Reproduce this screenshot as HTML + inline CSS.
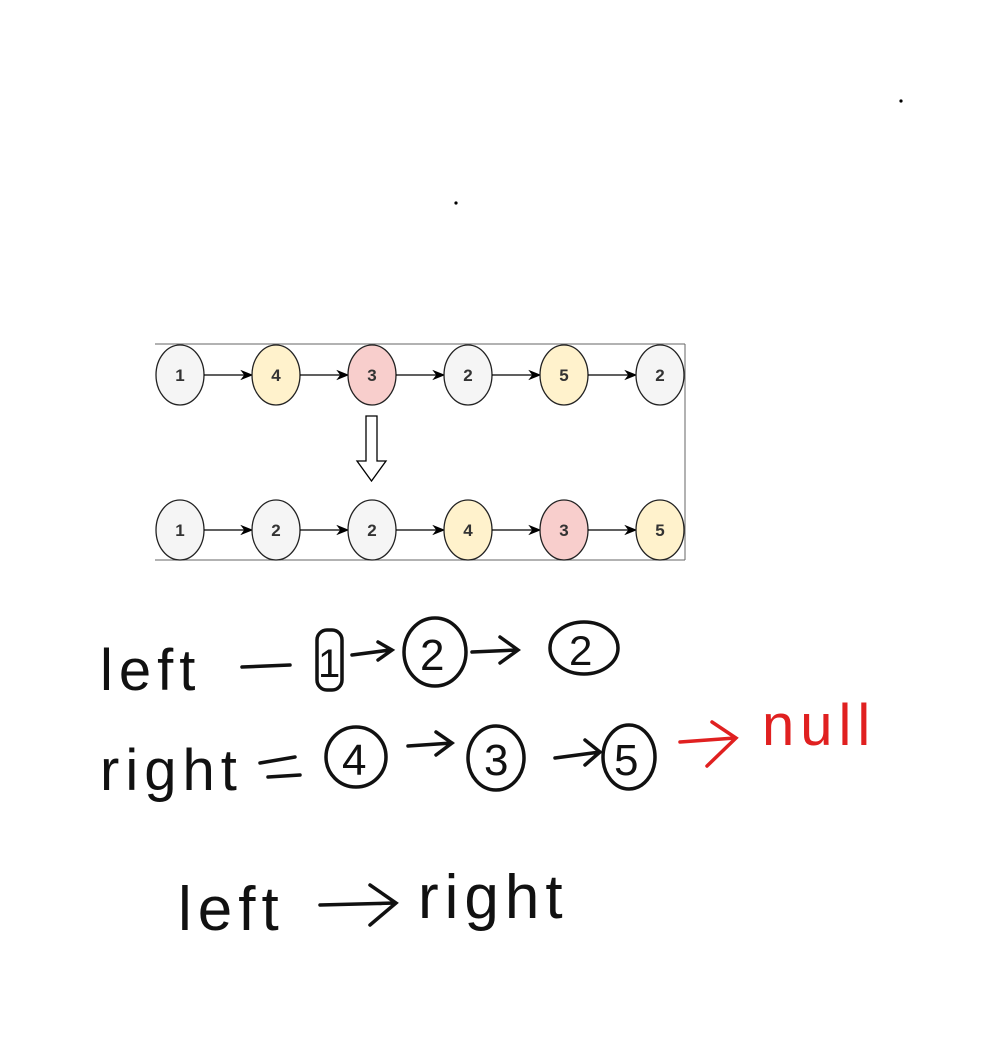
<!DOCTYPE html>
<html><head><meta charset="utf-8"><style>
html,body{margin:0;padding:0;background:#fff;width:1002px;height:1043px;overflow:hidden}
svg{display:block}
.node text{font-family:"Liberation Sans",sans-serif;font-weight:bold;font-size:17px;fill:#333}
.hw{font-family:"Liberation Sans",sans-serif;font-weight:normal;fill:#111;stroke:none;letter-spacing:6px}
</style></head><body>
<svg width="1002" height="1043" viewBox="0 0 1002 1043" xmlns="http://www.w3.org/2000/svg">
<defs><marker id="ah" markerWidth="10" markerHeight="10" refX="9" refY="5" orient="auto"><path d="M0,1 L10,5 L0,9 L3,5z" fill="#000"/></marker></defs>
<circle cx="901" cy="101" r="1.6" fill="#000"/>
<circle cx="456" cy="203" r="1.6" fill="#000"/>
<g>
<line x1="155" y1="344" x2="685" y2="344" stroke="#666" stroke-width="1"/>
<line x1="155" y1="560" x2="685" y2="560" stroke="#666" stroke-width="1"/>
<line x1="685" y1="344" x2="685" y2="560" stroke="#666" stroke-width="1"/>
<g id="rows"></g>
<path d="M366,416 H377 V461 H386 L371.5,481 L357,461 H366 Z" fill="#fff" stroke="#000" stroke-width="1.3"/>
</g>
<g fill="none" stroke="#111" stroke-width="3.5" stroke-linecap="round">
<text class="hw" x="100" y="690" font-size="58">left</text>
<line x1="242" y1="667" x2="290" y2="665"/>
<rect x="317" y="630" width="25" height="60" rx="10"/>
<text class="hw" x="318" y="677" font-size="40">1</text>
<path d="M352,655 L390,650 M378,642 L392,650 L378,660"/>
<ellipse cx="435" cy="652" rx="31" ry="34"/>
<text class="hw" x="420" y="670" font-size="44">2</text>
<path d="M472,652 L517,650 M500,637 L518,650 L500,663"/>
<ellipse cx="584" cy="648" rx="34" ry="26"/>
<text class="hw" x="569" y="665" font-size="42">2</text>
<text class="hw" x="100" y="790" font-size="58">right</text>
<line x1="260" y1="763" x2="295" y2="757"/>
<line x1="268" y1="777" x2="300" y2="775"/>
<ellipse cx="356" cy="757" rx="30" ry="30"/>
<text class="hw" x="342" y="775" font-size="44">4</text>
<path d="M408,746 L452,743 M436,732 L452,743 L436,755"/>
<ellipse cx="496" cy="758" rx="28" ry="32"/>
<text class="hw" x="484" y="775" font-size="44">3</text>
<path d="M555,758 L600,752 M585,740 L600,752 L585,765"/>
<ellipse cx="629" cy="757" rx="26" ry="32"/>
<text class="hw" x="614" y="775" font-size="44">5</text>
<g stroke="#e02020"><path d="M680,742 L735,738 M712,722 L736,738 L707,766"/></g>
<text class="hw" x="762" y="745" font-size="58" style="fill:#e02020">null</text>
<text class="hw" x="178" y="930" font-size="62">left</text>
<path d="M320,905 L395,903 M370,885 L396,903 L370,925"/>
<text class="hw" x="418" y="918" font-size="62">right</text>
</g>
</svg>
<script>
const topValues=[1,4,3,2,5,2];
const bottomValues=[1,2,2,4,3,5];
const fills={1:'#f5f5f5',2:'#f5f5f5',4:'#fff2cc',5:'#fff2cc',3:'#f8cecc'};
const NS='http://www.w3.org/2000/svg';
const g=document.getElementById('rows');
function xs(i){return 180+i*96;}
function drawRow(vals,cy){
  vals.forEach((v,i)=>{
    if(i>0){
      const l=document.createElementNS(NS,'line');
      l.setAttribute('x1',xs(i-1)+24);l.setAttribute('y1',cy);
      l.setAttribute('x2',xs(i)-24);l.setAttribute('y2',cy);
      l.setAttribute('stroke','#000');l.setAttribute('stroke-width','1.3');
      l.setAttribute('marker-end','url(#ah)');
      
      
      g.appendChild(l);
    }
    const n=document.createElementNS(NS,'g');n.setAttribute('class','node');
    
    
    const e=document.createElementNS(NS,'ellipse');
    e.setAttribute('cx',xs(i));e.setAttribute('cy',cy);e.setAttribute('rx',24);e.setAttribute('ry',30);
    e.setAttribute('fill',fills[v]);e.setAttribute('stroke','#222');e.setAttribute('stroke-width','1.3');
    const t=document.createElementNS(NS,'text');
    t.setAttribute('x',xs(i));t.setAttribute('y',cy+6);t.setAttribute('text-anchor','middle');
    t.textContent=v;
    n.appendChild(e);n.appendChild(t);g.appendChild(n);
  });
}
drawRow(topValues,375);
drawRow(bottomValues,530);
</script>
</body></html>
